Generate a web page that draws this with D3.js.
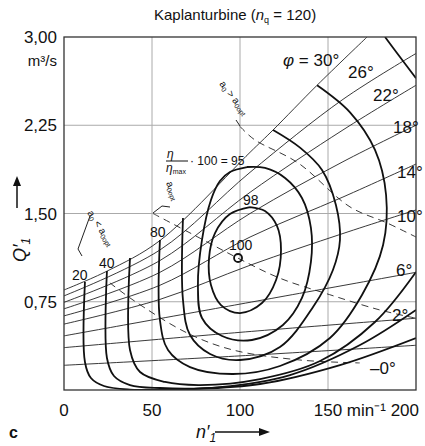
<!DOCTYPE html>
<html>
<head>
<meta charset="utf-8">
<script src="https://cdn.jsdelivr.net/npm/d3@7"></script>
<style>
  body { margin: 0; background: #fff; }
  text { font-family: "Liberation Sans", Arial, sans-serif; fill: #111; }
</style>
</head>
<body>
<div id="chart"></div>
<script>
// axis ticks
const xTicks = [0, 50, 100, 150, 200];
const yTicks = [0.75, 1.5, 2.25, 3.0];
const yTickLabels = ['0,75', '1,50', '2,25', '3,00'];

// blade angle lines phi (n1', Q1')
const phiLabels = ['30°', '26°', '22°', '18°', '14°', '10°', '6°', '2°', '0°'];
const phiLines = [
  [[0, 0.85], [24.4, 1.01], [54.5, 1.27], [105.7, 2.02], [118.8, 2.21], [143.8, 2.59], [172.2, 3.0]],
  [[0, 0.80], [54.5, 1.19], [105.7, 1.85], [158.5, 2.47], [200, 2.86]],
  [[0, 0.745], [54.5, 1.10], [105.7, 1.68], [158.5, 2.21], [200, 2.59]],
  [[0, 0.69], [54.5, 1.00], [105.7, 1.50], [158.5, 1.94], [200, 2.25]],
  [[0, 0.63], [54.5, 0.89], [105.7, 1.30], [158.5, 1.64], [200, 1.92]],
  [[0, 0.56], [54.5, 0.77], [105.7, 1.06], [158.5, 1.33], [200, 1.53]],
  [[0, 0.46], [100, 0.73], [200, 1.00]],
  [[0, 0.36], [100, 0.49], [200, 0.61]],
  [[0, 0.21], [100, 0.29], [200, 0.38]]
];

// efficiency contours eta/eta_max*100
const etaLabels = ['20', '40', '60', '80', '90', '95', '98'];
const etaLines = [
  [[11.9, 0.918], [11.9, 0.238], [15.3, 0.102], [22.7, 0.034], [37.5, 0.004], [71.6, 0.008], [111.4, 0.051], [156.8, 0.212], [200, 0.442]],
  [[24.4, 1.011], [24.4, 0.272], [28.4, 0.119], [37.5, 0.042], [54.5, 0.017], [88.6, 0.025], [128.4, 0.127], [168.2, 0.382], [200, 0.68]],
  [[37.5, 1.122], [37.5, 0.34], [43.2, 0.153], [57.4, 0.068], [77.3, 0.042], [111.4, 0.093], [145.5, 0.246], [176.7, 0.578], [200, 1.003]],
  [[54.5, 1.275], [54.5, 0.595], [59.1, 0.34], [71.6, 0.195], [96, 0.136], [122.7, 0.204], [151.1, 0.442], [169.3, 0.807], [181.3, 1.232], [183, 1.657], [176.7, 2.04], [162.5, 2.36], [143.8, 2.59]],
  [[67.6, 1.462], [67.6, 0.765], [71.6, 0.467], [83, 0.306], [100, 0.255], [122.7, 0.365], [141.5, 0.705], [152.8, 1.02], [156.8, 1.275], [154.5, 1.572], [146.6, 1.87], [134.1, 2.06], [118.8, 2.21]],
  [[104, 1.895], [94.3, 1.853], [88.6, 1.776], [83.5, 1.615], [78.4, 1.275], [76.1, 0.892], [78.4, 0.612], [89.8, 0.459], [106.8, 0.425], [124.4, 0.552], [135.2, 0.782], [140.3, 1.088], [140.3, 1.377], [135.2, 1.632], [125.6, 1.802], [114.2, 1.887], [104, 1.895]],
  [[105.7, 1.555], [114.2, 1.521], [121, 1.394], [123.3, 1.19], [120.5, 0.935], [112.5, 0.739], [100, 0.654], [89.2, 0.722], [83.5, 0.892], [82.4, 1.122], [85.8, 1.334], [94.3, 1.496], [105.7, 1.555]]
];
// upper right part of the 60 contour
const eta60Upper = [[182.4, 3.0], [190.9, 2.83], [200, 2.65]];
const etaOpt = [98.9, 1.122];

// guide vane opening lines (dashed)
const a0Lines = [
  [[100, 2.24], [108, 2.13], [133, 1.93], [162.5, 1.556], [183.5, 1.42], [200, 1.30]],
  [[50.6, 1.50], [77.3, 1.29], [98.9, 1.12], [122.7, 0.95], [151, 0.81], [179.5, 0.68], [200, 0.61]],
  [[26.1, 0.91], [39.2, 0.765], [69.9, 0.485], [96, 0.34], [134, 0.255], [168, 0.23]]
];

const width = 425, height = 446;
const svg = d3.select('#chart').append('svg')
  .attr('width', width)
  .attr('height', height);

const x = d3.scaleLinear().domain([0, 200]).range([64, 416]);
const y = d3.scaleLinear().domain([0, 3]).range([390, 37]);

const line = d3.line()
  .x(d => x(d[0]))
  .y(d => y(d[1]))
  .curve(d3.curveCatmullRom.alpha(0.5));

svg.append('defs').append('clipPath').attr('id', 'plot')
  .append('rect').attr('x', 64).attr('y', 37).attr('width', 352).attr('height', 353);

// grid
svg.append('g').selectAll('line').data(xTicks.slice(1, -1)).join('line')
  .attr('x1', d => x(d)).attr('x2', d => x(d))
  .attr('y1', y(0)).attr('y2', y(3))
  .attr('stroke', '#aaa').attr('stroke-width', 1);
svg.append('g').selectAll('line').data(yTicks.slice(0, -1)).join('line')
  .attr('x1', x(0)).attr('x2', x(200))
  .attr('y1', d => y(d)).attr('y2', d => y(d))
  .attr('stroke', '#aaa').attr('stroke-width', 1);

const plot = svg.append('g').attr('clip-path', 'url(#plot)');

plot.selectAll('path.phi').data(phiLines).join('path')
  .attr('class', 'phi')
  .attr('d', line)
  .attr('fill', 'none').attr('stroke', '#222').attr('stroke-width', 0.9);

plot.selectAll('path.a0').data(a0Lines).join('path')
  .attr('class', 'a0')
  .attr('d', line)
  .attr('fill', 'none').attr('stroke', '#222').attr('stroke-width', 0.9)
  .attr('stroke-dasharray', '7,5');

plot.selectAll('path.eta').data(etaLines.concat([eta60Upper])).join('path')
  .attr('class', 'eta')
  .attr('d', line)
  .attr('fill', 'none').attr('stroke', '#111').attr('stroke-width', 1.8);

// frame
svg.append('rect')
  .attr('x', x(0)).attr('y', y(3))
  .attr('width', x(200) - x(0)).attr('height', y(0) - y(3))
  .attr('fill', 'none').attr('stroke', '#333').attr('stroke-width', 1.3);

// optimum
svg.append('circle').attr('cx', x(etaOpt[0])).attr('cy', y(etaOpt[1]))
  .attr('r', 4).attr('fill', 'none').attr('stroke', '#111').attr('stroke-width', 1.8);

// tick labels
svg.append('g').selectAll('text').data(yTicks).join('text')
  .attr('x', 57).attr('y', d => y(d) + 6)
  .attr('text-anchor', 'end').attr('font-size', 17)
  .text((d, i) => yTickLabels[i]);
svg.append('text').attr('x', 57).attr('y', 66).attr('text-anchor', 'end')
  .attr('font-size', 15).text('m³/s');

svg.append('g').selectAll('text').data(xTicks.slice(0, -1)).join('text')
  .attr('x', d => x(d)).attr('y', 416)
  .attr('text-anchor', 'middle').attr('font-size', 17)
  .text(d => d);
svg.append('text').attr('x', 419).attr('y', 416).attr('text-anchor', 'end')
  .attr('font-size', 17).text('min⁻¹ 200');

// title
const title = svg.append('text').attr('x', 154).attr('y', 20)
  .attr('font-size', 15);
title.append('tspan').text('Kaplanturbine (');
title.append('tspan').attr('font-style', 'italic').text('n');
title.append('tspan').attr('font-size', 9).attr('dy', 3).text('q');
title.append('tspan').attr('dy', -3).text(' = 120)');

// axis names
const yl = svg.append('text').attr('transform', 'translate(26,262) rotate(-90)')
  .attr('font-size', 18).attr('font-style', 'italic');
yl.append('tspan').text('Q′');
yl.append('tspan').attr('font-size', 12).attr('dy', 4).text('1');
svg.append('line').attr('x1', 17).attr('x2', 17).attr('y1', 208).attr('y2', 182)
  .attr('stroke', '#111').attr('stroke-width', 1.5);
svg.append('path').attr('d', 'M17,176 L13,186 L21,186 Z').attr('fill', '#111');

const xl = svg.append('text').attr('x', 196).attr('y', 438)
  .attr('font-size', 18).attr('font-style', 'italic');
xl.append('tspan').text('n′');
xl.append('tspan').attr('font-size', 12).attr('dy', 4).text('1');
svg.append('line').attr('x1', 215).attr('x2', 262).attr('y1', 432).attr('y2', 432)
  .attr('stroke', '#111').attr('stroke-width', 1.5);
svg.append('path').attr('d', 'M270,432 L259,428 L259,436 Z').attr('fill', '#111');

svg.append('text').attr('x', 9).attr('y', 438).attr('font-size', 16)
  .attr('font-weight', 'bold').text('c');

// phi labels
const phiPos = [[283, 66], [348, 78], [373, 101], [393, 133], [397, 178], [397, 222], [396, 276], [392, 321], [370, 374]];
svg.append('g').selectAll('text').data(phiLabels).join('text')
  .attr('x', (d, i) => phiPos[i][0]).attr('y', (d, i) => phiPos[i][1])
  .attr('font-size', 17)
  .text((d, i) => i === 0 ? '' : (i === 8 ? '–' + d : d))
  .each(function (d, i) {
    if (i === 0) {
      const t = d3.select(this);
      t.append('tspan').attr('font-style', 'italic').text('φ');
      t.append('tspan').text(' = ' + d);
    }
  });

// eta labels
const etaLabelPos = [[72, 280], [99, 268], [null, null], [150, 237], [null, null], [null, null], [243, 205]];
svg.append('g').selectAll('text').data(etaLabels.filter((d, i) => etaLabelPos[i][0] !== null)).join('text')
  .attr('x', d => etaLabelPos[etaLabels.indexOf(d)][0])
  .attr('y', d => etaLabelPos[etaLabels.indexOf(d)][1])
  .attr('font-size', 14).text(d => d);
svg.append('text').attr('x', 229).attr('y', 250).attr('font-size', 14).text('100');

const fr = svg.append('g').attr('transform', 'translate(166,0)');
fr.append('text').attr('x', 1).attr('y', 158).attr('font-size', 12).attr('font-style', 'italic').text('η');
fr.append('line').attr('x1', 0).attr('x2', 22).attr('y1', 161).attr('y2', 161).attr('stroke', '#111').attr('stroke-width', 1);
fr.append('text').attr('x', 0).attr('y', 172).attr('font-size', 12).attr('font-style', 'italic').text('η')
  .append('tspan').attr('font-size', 7).attr('font-style', 'normal').attr('dy', 2).text('max');
fr.append('text').attr('x', 24).attr('y', 165).attr('font-size', 12).text('· 100 = 95');

// a0 labels
const sub = (t, parts) => parts.forEach(p => t.append('tspan')
  .attr('font-size', p[1] ? 7 : 10).attr('dy', p[1] ? 2 : (p[2] || 0)).text(p[0]));
sub(svg.append('text').attr('transform', 'translate(219,84) rotate(52)'),
  [['a', 0], ['0', 1], [' > a', 0, -2], ['0opt', 1]]);
sub(svg.append('text').attr('transform', 'translate(166,183) rotate(68)'),
  [['a', 0], ['0opt', 1]]);
sub(svg.append('text').attr('transform', 'translate(87,213) rotate(57)'),
  [['a', 0], ['0', 1], [' < a', 0, -2], ['0opt', 1]]);
// leaders
svg.append('path').attr('d', 'M240,126 L236,120').attr('stroke', '#222').attr('fill', 'none');
svg.append('path').attr('d', 'M153,213 L162,206 L170,207').attr('stroke', '#222').attr('fill', 'none');
svg.append('path').attr('d', 'M90,216 L78,249 L82,256').attr('stroke', '#222').attr('fill', 'none');
</script>
</body>
</html>
